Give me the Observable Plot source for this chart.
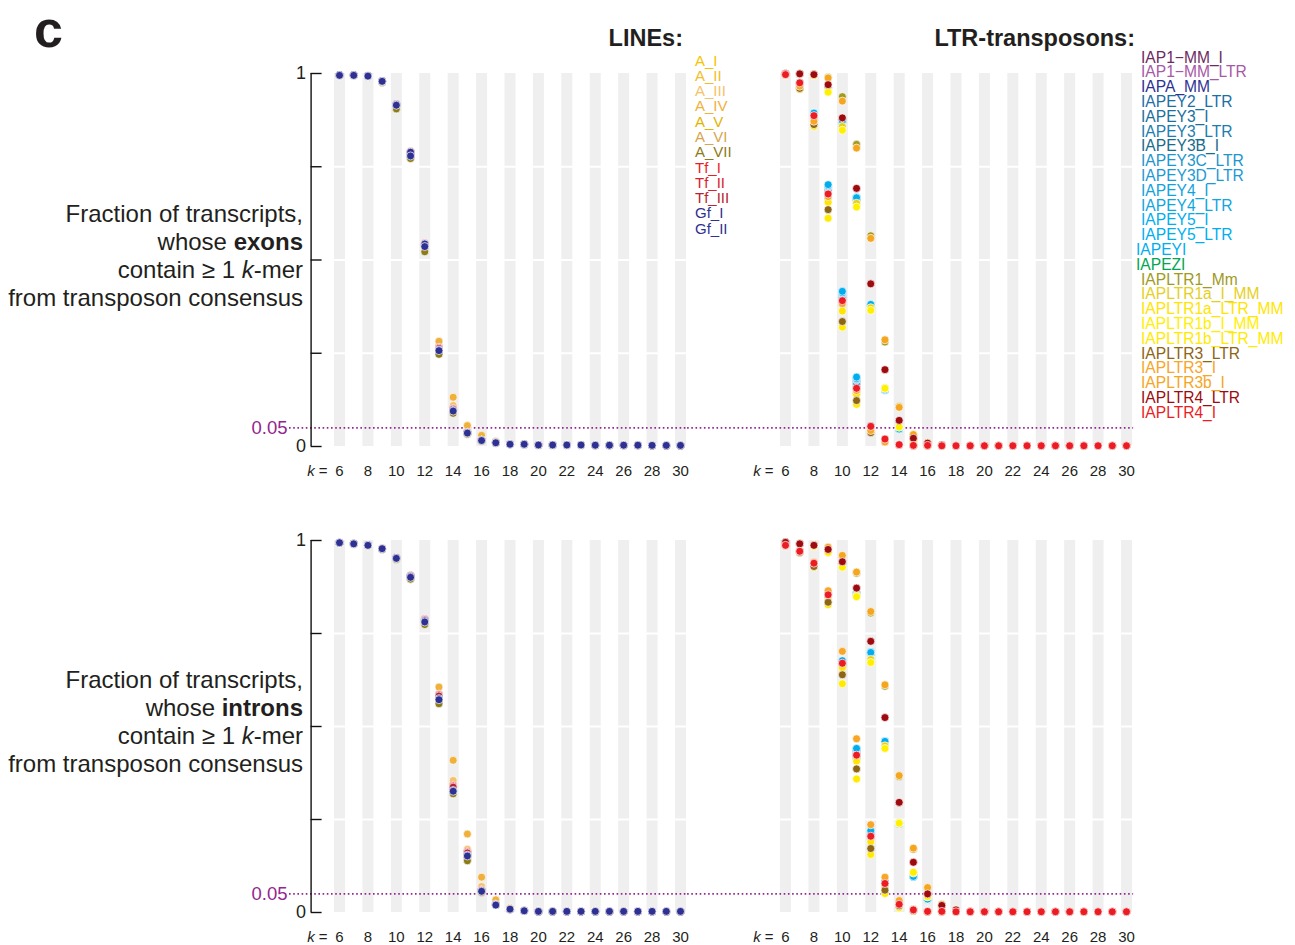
<!DOCTYPE html>
<html><head><meta charset="utf-8">
<script src="https://cdn.jsdelivr.net/npm/d3@7"></script>
<script src="https://cdn.jsdelivr.net/npm/@observablehq/plot@0.6"></script>
<style>
body{margin:0;background:#fff;}
#page{position:relative;width:1295px;height:945px;overflow:hidden;font-family:"Liberation Sans",Arial,Helvetica,sans-serif;color:#231f20;background:#fff;}
.panel{position:absolute;left:0;}
.ylab{position:absolute;right:992px;text-align:right;font-size:24px;line-height:28px;white-space:nowrap;}
.legend{position:absolute;white-space:nowrap;}
.title{position:absolute;font-weight:bold;font-size:23.5px;line-height:23.5px;white-space:nowrap;}
.letter{position:absolute;left:34px;top:3px;font-weight:bold;font-size:52px;line-height:52px;}
</style></head>
<body><div id="page"></div>
<script>
// ---------- data ----------
const kValues = [6,7,8,9,10,11,12,13,14,15,16,17,18,19,20,21,22,23,24,25,26,27,28,29,30];
const kTickLabels = [6,8,10,12,14,16,18,20,22,24,26,28,30];
const yTickMarks = [0,0.25,0.5,0.75,1];
const yTickLabels = [0,1];
const gridBreaks = [0.25,0.5,0.75];
const threshold = [0.05];

const lineNames = ["A_I","A_II","A_III","A_IV","A_V","A_VI","A_VII","Tf_I","Tf_II","Tf_III","Gf_I","Gf_II"];
const lineColors = ["#F5C400","#F0BE2A","#F5C26A","#F0B13A","#E3B300","#D6A64E","#8C7B16","#EC1C24","#DA2031","#B8232F","#2E3192","#2E3192"];

const lineExons = [
 [.994,.994,.992,.977,.910,.778,.532,.262,.100,.040,.018,.011,.007,.006,.004,.004,.004,.004,.0035,.0035,.0035,.0035,.003,.003,.003],
 [.994,.994,.992,.977,.911,.779,.534,.265,.103,.041,.019,.011,.007,.006,.004,.004,.004,.004,.0035,.0035,.0035,.0035,.003,.003,.003],
 [.995,.994,.993,.978,.912,.781,.536,.270,.110,.045,.021,.012,.007,.006,.004,.004,.004,.004,.0035,.0035,.0035,.0035,.003,.003,.003],
 [.995,.995,.993,.979,.913,.783,.538,.282,.132,.056,.030,.014,.008,.007,.005,.005,.0045,.0045,.004,.004,.004,.004,.0035,.0035,.0035],
 [.994,.994,.992,.976,.906,.775,.527,.252,.093,.035,.015,.010,.006,.005,.004,.004,.004,.004,.0035,.0035,.0035,.0035,.003,.003,.003],
 [.994,.994,.992,.977,.908,.777,.530,.258,.097,.037,.016,.010,.006,.005,.004,.004,.004,.004,.0035,.0035,.0035,.0035,.003,.003,.003],
 [.994,.994,.992,.976,.905,.772,.522,.247,.089,.033,.014,.009,.006,.005,.003,.003,.003,.003,.003,.003,.003,.003,.003,.003,.003],
 [.996,.995,.994,.980,.918,.791,.545,.266,.102,.038,.017,.011,.007,.006,.004,.004,.004,.004,.0035,.0035,.0035,.0035,.003,.003,.003],
 [.995,.995,.994,.980,.917,.788,.542,.265,.101,.038,.017,.011,.007,.006,.004,.004,.004,.004,.0035,.0035,.0035,.0035,.003,.003,.003],
 [.995,.995,.993,.979,.916,.786,.540,.263,.100,.037,.017,.010,.006,.006,.004,.004,.004,.004,.0035,.0035,.0035,.0035,.003,.003,.003],
 [.995,.995,.993,.979,.917,.789,.543,.259,.097,.037,.016,.010,.006,.006,.004,.004,.004,.004,.0035,.0035,.0035,.0035,.003,.003,.003],
 [.995,.995,.993,.979,.915,.779,.536,.257,.095,.036,.016,.010,.006,.006,.004,.004,.004,.004,.0035,.0035,.0035,.0035,.003,.003,.003]
];
const lineIntrons = [
 [.993,.990,.986,.977,.951,.899,.778,.575,.335,.155,.062,.023,.010,.005,.004,.003,.003,.003,.003,.003,.003,.003,.003,.003,.003],
 [.993,.990,.986,.977,.951,.900,.779,.578,.340,.160,.065,.024,.010,.005,.004,.003,.003,.003,.003,.003,.003,.003,.003,.003,.003],
 [.994,.991,.987,.978,.952,.902,.781,.585,.355,.170,.070,.026,.011,.005,.004,.003,.003,.003,.003,.003,.003,.003,.003,.003,.003],
 [.994,.991,.987,.978,.953,.904,.786,.606,.409,.211,.095,.034,.013,.006,.004,.004,.004,.003,.003,.003,.003,.003,.003,.003,.003],
 [.993,.990,.986,.977,.950,.897,.775,.563,.322,.142,.056,.021,.009,.005,.003,.003,.003,.003,.003,.003,.003,.003,.003,.003,.003],
 [.993,.990,.986,.977,.950,.898,.777,.568,.328,.148,.058,.022,.009,.005,.003,.003,.003,.003,.003,.003,.003,.003,.003,.003,.003],
 [.993,.990,.986,.976,.949,.896,.774,.561,.319,.139,.054,.020,.009,.004,.003,.003,.003,.003,.003,.003,.003,.003,.003,.003,.003],
 [.994,.991,.988,.979,.954,.906,.788,.587,.342,.164,.061,.022,.009,.005,.003,.003,.003,.003,.003,.003,.003,.003,.003,.003,.003],
 [.994,.991,.987,.978,.953,.905,.787,.585,.340,.162,.060,.022,.009,.005,.003,.003,.003,.003,.003,.003,.003,.003,.003,.003,.003],
 [.994,.991,.987,.978,.953,.904,.786,.582,.337,.160,.060,.021,.009,.005,.003,.003,.003,.003,.003,.003,.003,.003,.003,.003,.003],
 [.994,.991,.987,.978,.953,.903,.784,.575,.328,.154,.058,.021,.009,.0045,.003,.003,.003,.003,.003,.003,.003,.003,.003,.003,.003],
 [.994,.991,.987,.978,.952,.901,.781,.572,.326,.152,.057,.020,.009,.0045,.003,.003,.003,.003,.003,.003,.003,.003,.003,.003,.003]
];

const ltrNames = ["IAP1\u2212MM_I","IAP1\u2212MM_LTR","IAPA_MM","IAPEY2_LTR","IAPEY3_I","IAPEY3_LTR","IAPEY3B_I","IAPEY3C_LTR","IAPEY3D_LTR","IAPEY4_I","IAPEY4_LTR","IAPEY5_I","IAPEY5_LTR","IAPEYI","IAPEZI","IAPLTR1_Mm","IAPLTR1a_I_MM","IAPLTR1a_LTR_MM","IAPLTR1b_I_MM","IAPLTR1b_LTR_MM","IAPLTR3_LTR","IAPLTR3_I","IAPLTR3b_I","IAPLTR4_LTR","IAPLTR4_I"];
const ltrColors = ["#6D2A5F","#A659A6","#2E3192","#1C6EA4","#1B6F9E","#1B7DB0","#186C8C","#1D95CD","#1E99D3","#12A2DD","#10A6E0","#00AEEF","#00AEEF","#00AEEF","#00A651","#A19A1E","#E6CF1E","#FFE500","#FFF000","#FFEB00","#8E6415","#F7A626","#F5A61F","#9E0B0F","#EC1C24"];
const ltrLegendShift = [0,0,0,0,0,0,0,0,0,0,0,0,0,-5,-5,0,0,0,0,0,0,0,0,0,0];

const ltrExons = [
 [.999,.998,.995,.962,.872,.665,.380,.155,.048,.014,.005,.003,.002,.002,.002,.002,.002,.002,.002,.002,.002,.002,.002,.002,.002],
 [.996,.968,.880,.680,.395,.165,.050,.016,.005,.002,.002,.002,.002,.002,.002,.002,.002,.002,.002,.002,.002,.002,.002,.002,.002],
 [.999,.998,.995,.961,.870,.662,.378,.153,.047,.014,.005,.003,.002,.002,.002,.002,.002,.002,.002,.002,.002,.002,.002,.002,.002],
 [.996,.970,.885,.690,.405,.172,.052,.017,.005,.002,.002,.002,.002,.002,.002,.002,.002,.002,.002,.002,.002,.002,.002,.002,.002],
 [.999,.998,.995,.962,.872,.666,.380,.152,.046,.014,.005,.003,.002,.002,.002,.002,.002,.002,.002,.002,.002,.002,.002,.002,.002],
 [.996,.970,.884,.688,.400,.170,.050,.016,.005,.002,.002,.002,.002,.002,.002,.002,.002,.002,.002,.002,.002,.002,.002,.002,.002],
 [.999,.998,.995,.961,.871,.664,.378,.151,.046,.013,.005,.003,.002,.002,.002,.002,.002,.002,.002,.002,.002,.002,.002,.002,.002],
 [.997,.972,.888,.695,.408,.178,.053,.017,.005,.002,.002,.002,.002,.002,.002,.002,.002,.002,.002,.002,.002,.002,.002,.002,.002],
 [.997,.972,.890,.697,.410,.180,.054,.017,.005,.002,.002,.002,.002,.002,.002,.002,.002,.002,.002,.002,.002,.002,.002,.002,.002],
 [.999,.998,.995,.962,.873,.667,.380,.152,.046,.014,.005,.003,.002,.002,.002,.002,.002,.002,.002,.002,.002,.002,.002,.002,.002],
 [.997,.973,.891,.699,.412,.182,.054,.018,.005,.002,.002,.002,.002,.002,.002,.002,.002,.002,.002,.002,.002,.002,.002,.002,.002],
 [.999,.998,.995,.963,.874,.668,.381,.152,.046,.014,.005,.003,.002,.002,.002,.002,.002,.002,.002,.002,.002,.002,.002,.002,.002],
 [.998,.975,.894,.702,.416,.186,.055,.018,.005,.002,.002,.002,.002,.002,.002,.002,.002,.002,.002,.002,.002,.002,.002,.002,.002],
 [.999,.998,.995,.962,.873,.667,.381,.153,.047,.014,.005,.003,.002,.002,.002,.002,.002,.002,.002,.002,.002,.002,.002,.002,.002],
 [.996,.962,.870,.665,.383,.143,.045,.014,.004,.002,.002,.002,.002,.002,.002,.002,.002,.002,.002,.002,.002,.002,.002,.002,.002],
 [.999,.999,.998,.990,.938,.810,.565,.280,.107,.030,.010,.004,.002,.002,.002,.002,.002,.002,.002,.002,.002,.002,.002,.002,.002],
 [.999,.998,.995,.955,.858,.652,.372,.156,.052,.014,.005,.003,.002,.002,.002,.002,.002,.002,.002,.002,.002,.002,.002,.002,.002],
 [.996,.965,.866,.655,.363,.140,.046,.014,.004,.002,.002,.002,.002,.002,.002,.002,.002,.002,.002,.002,.002,.002,.002,.002,.002],
 [.999,.998,.994,.950,.848,.642,.365,.156,.052,.013,.005,.003,.002,.002,.002,.002,.002,.002,.002,.002,.002,.002,.002,.002,.002],
 [.995,.958,.858,.612,.320,.113,.040,.012,.004,.002,.002,.002,.002,.002,.002,.002,.002,.002,.002,.002,.002,.002,.002,.002,.002],
 [.995,.960,.863,.635,.335,.123,.037,.012,.004,.002,.002,.002,.002,.002,.002,.002,.002,.002,.002,.002,.002,.002,.002,.002,.002],
 [.996,.966,.872,.670,.383,.150,.043,.012,.004,.002,.002,.002,.002,.002,.002,.002,.002,.002,.002,.002,.002,.002,.002,.002,.002],
 [.999,.999,.998,.988,.926,.800,.558,.286,.105,.032,.011,.004,.002,.002,.002,.002,.002,.002,.002,.002,.002,.002,.002,.002,.002],
 [.999,.999,.997,.970,.881,.692,.436,.206,.070,.022,.009,.004,.002,.002,.002,.002,.002,.002,.002,.002,.002,.002,.002,.002,.002],
 [.997,.975,.887,.677,.391,.156,.054,.020,.005,.003,.003,.002,.002,.002,.002,.002,.002,.002,.002,.002,.002,.002,.002,.002,.002]
];
const ltrIntrons = [
 [.995,.990,.985,.970,.934,.856,.698,.458,.240,.098,.036,.012,.005,.002,.002,.002,.002,.002,.002,.002,.002,.002,.002,.002,.002],
 [.987,.970,.936,.848,.662,.425,.205,.078,.024,.007,.003,.002,.002,.002,.002,.002,.002,.002,.002,.002,.002,.002,.002,.002,.002],
 [.995,.990,.985,.969,.933,.855,.696,.456,.238,.097,.036,.012,.005,.002,.002,.002,.002,.002,.002,.002,.002,.002,.002,.002,.002],
 [.988,.971,.938,.855,.670,.432,.212,.082,.025,.007,.003,.002,.002,.002,.002,.002,.002,.002,.002,.002,.002,.002,.002,.002,.002],
 [.995,.990,.985,.970,.934,.857,.699,.459,.240,.097,.036,.012,.005,.002,.002,.002,.002,.002,.002,.002,.002,.002,.002,.002,.002],
 [.988,.971,.938,.853,.668,.430,.210,.080,.025,.007,.003,.002,.002,.002,.002,.002,.002,.002,.002,.002,.002,.002,.002,.002,.002],
 [.995,.990,.985,.969,.933,.855,.697,.457,.239,.096,.035,.012,.005,.002,.002,.002,.002,.002,.002,.002,.002,.002,.002,.002,.002],
 [.988,.972,.940,.857,.673,.436,.215,.083,.026,.008,.003,.002,.002,.002,.002,.002,.002,.002,.002,.002,.002,.002,.002,.002,.002],
 [.988,.972,.940,.858,.675,.438,.217,.084,.026,.008,.003,.002,.002,.002,.002,.002,.002,.002,.002,.002,.002,.002,.002,.002,.002],
 [.995,.990,.985,.970,.935,.858,.700,.461,.240,.097,.036,.012,.005,.002,.002,.002,.002,.002,.002,.002,.002,.002,.002,.002,.002],
 [.988,.972,.940,.859,.676,.440,.218,.085,.027,.008,.003,.002,.002,.002,.002,.002,.002,.002,.002,.002,.002,.002,.002,.002,.002],
 [.995,.990,.985,.970,.935,.858,.700,.461,.240,.097,.036,.012,.005,.002,.002,.002,.002,.002,.002,.002,.002,.002,.002,.002,.002],
 [.988,.972,.940,.860,.677,.441,.220,.085,.027,.008,.003,.002,.002,.002,.002,.002,.002,.002,.002,.002,.002,.002,.002,.002,.002],
 [.995,.990,.985,.970,.934,.857,.699,.460,.240,.097,.036,.012,.005,.002,.002,.002,.002,.002,.002,.002,.002,.002,.002,.002,.002],
 [.987,.970,.936,.841,.662,.415,.198,.070,.020,.006,.003,.002,.002,.002,.002,.002,.002,.002,.002,.002,.002,.002,.002,.002,.002],
 [.995,.992,.988,.982,.958,.912,.805,.608,.365,.170,.065,.020,.007,.003,.002,.002,.002,.002,.002,.002,.002,.002,.002,.002,.002],
 [.995,.990,.984,.968,.930,.852,.680,.448,.242,.106,.042,.014,.005,.002,.002,.002,.002,.002,.002,.002,.002,.002,.002,.002,.002],
 [.986,.969,.932,.838,.658,.407,.190,.065,.017,.005,.002,.002,.002,.002,.002,.002,.002,.002,.002,.002,.002,.002,.002,.002,.002],
 [.995,.990,.984,.968,.928,.849,.672,.441,.240,.108,.043,.014,.005,.002,.002,.002,.002,.002,.002,.002,.002,.002,.002,.002,.002],
 [.985,.967,.928,.827,.615,.359,.156,.051,.013,.004,.002,.002,.002,.002,.002,.002,.002,.002,.002,.002,.002,.002,.002,.002,.002],
 [.986,.968,.930,.834,.639,.386,.172,.060,.018,.005,.002,.002,.002,.002,.002,.002,.002,.002,.002,.002,.002,.002,.002,.002,.002],
 [.988,.972,.942,.865,.702,.467,.236,.095,.032,.009,.003,.002,.002,.002,.002,.002,.002,.002,.002,.002,.002,.002,.002,.002,.002],
 [.995,.992,.988,.982,.960,.915,.809,.612,.368,.173,.067,.022,.008,.003,.002,.002,.002,.002,.002,.002,.002,.002,.002,.002,.002],
 [.995,.991,.987,.976,.943,.872,.729,.524,.296,.135,.050,.019,.007,.003,.002,.002,.002,.002,.002,.002,.002,.002,.002,.002,.002],
 [.987,.971,.939,.854,.670,.423,.205,.078,.022,.007,.003,.003,.002,.002,.002,.002,.002,.002,.002,.002,.002,.002,.002,.002,.002]
];

// ---------- styling constants ----------
const FONT = '"Liberation Sans", Arial, Helvetica, sans-serif';
const INK = "#231f20";
const PURPLE = "#93278F";
const BAND = "#efefef";
const PAGE_W = 1295;
const xDomain = [4, 30.5];

function rowsFor(names, values) {
  const out = [];
  names.forEach((s, i) => {
    if (values[i].length !== kValues.length) console.warn("length mismatch", s, values[i].length);
    values[i].forEach((v, j) => out.push({series: s, k: kValues[j], v}));
  });
  return out;
}

function panel({names, colors, values, top, height, marginTop, marginBottom, marginLeft, marginRight, yAxis, ruleExtend}) {
  const frameW = PAGE_W - marginLeft - marginRight;
  const marks = [
    Plot.ruleX(kTickLabels, {x: d => d, y1: 0, y2: 1, stroke: BAND, strokeWidth: 11}),
    Plot.ruleY(gridBreaks, {y: d => d, stroke: "white", strokeWidth: 2}),
    Plot.ruleY(threshold, {y: d => d, stroke: PURPLE, strokeWidth: 1.6, strokeDasharray: "1.6 2.6", insetLeft: -ruleExtend}),
    Plot.dot(rowsFor(names, values), {x: "k", y: "v", fill: "series", r: 4, stroke: "white", strokeWidth: 0.7}),
    Plot.axisX({ticks: kTickLabels, tickSize: 0, tickPadding: 19, tickFormat: d => `${d}`, label: null, fontSize: 15, fill: INK}),
    Plot.text([kValues[0]], {x: d => d, text: () => "=", frameAnchor: "bottom", lineAnchor: "top", dy: 19, dx: -16.5, fontSize: 15, fill: INK}),
    Plot.text([kValues[0]], {x: d => d, text: () => "k", frameAnchor: "bottom", lineAnchor: "top", dy: 19, dx: -28.5, fontSize: 15, fontStyle: "italic", fill: INK})
  ];
  if (yAxis) {
    marks.push(
      Plot.ruleX([xDomain[0]], {x: d => d, y1: 0, y2: 1, stroke: "#111", strokeWidth: 1.4}),
      Plot.ruleY(yTickMarks, {y: d => d, stroke: "#111", strokeWidth: 1.4, insetRight: frameW - 11}),
      Plot.axisY({ticks: yTickLabels, tickSize: 0, tickPadding: 5, tickFormat: d => `${d}`, label: null, fontSize: 18, fill: INK}),
      Plot.text(threshold, {y: d => d, text: () => "0.05", frameAnchor: "left", textAnchor: "end", dx: -(ruleExtend + 2), fontSize: 18.5, fill: PURPLE})
    );
  }
  const svg = Plot.plot({
    width: PAGE_W, height, marginTop, marginBottom, marginLeft, marginRight,
    x: {domain: xDomain, axis: null},
    y: {domain: [0, 1], axis: null},
    color: {domain: names, range: colors},
    style: {fontFamily: FONT, fontSize: "15px", color: INK, background: "transparent", overflow: "visible"},
    marks
  });
  const wrap = document.createElement("div");
  wrap.className = "panel";
  wrap.style.top = top + "px";
  wrap.appendChild(svg);
  return wrap;
}

const page = document.getElementById("page");

const L = {marginLeft: 310.6, marginRight: PAGE_W - 687.1};
const R = {marginLeft: 756.6, marginRight: PAGE_W - 1133.1};
const TOP = {top: 0, height: 490, marginTop: 73, marginBottom: 44};
const BOT = {top: 490, height: 455, marginTop: 50, marginBottom: 33};
const gapExtend = R.marginLeft - (PAGE_W - L.marginRight);

page.appendChild(panel({names: lineNames, colors: lineColors, values: lineExons, ...TOP, ...L, yAxis: true, ruleExtend: 21.6}));
page.appendChild(panel({names: ltrNames, colors: ltrColors, values: ltrExons, ...TOP, ...R, yAxis: false, ruleExtend: gapExtend}));
page.appendChild(panel({names: lineNames, colors: lineColors, values: lineIntrons, ...BOT, ...L, yAxis: true, ruleExtend: 21.6}));
page.appendChild(panel({names: ltrNames, colors: ltrColors, values: ltrIntrons, ...BOT, ...R, yAxis: false, ruleExtend: gapExtend}));

// ---------- texts ----------
function addHTML(cls, html, style) {
  const d = document.createElement("div");
  d.className = cls;
  d.innerHTML = html;
  Object.assign(d.style, style);
  page.appendChild(d);
  return d;
}
addHTML("letter", "c", {});
addHTML("title", "LINEs:", {right: (PAGE_W - 683) + "px", top: "27px"});
addHTML("title", "LTR-transposons:", {right: (PAGE_W - 1135) + "px", top: "27px"});
addHTML("ylab", "Fraction of transcripts,<br>whose <b>exons</b><br>contain \u2265 1 <i>k</i>-mer<br>from transposon consensus", {top: "200px"});
addHTML("ylab", "Fraction of transcripts,<br>whose <b>introns</b><br>contain \u2265 1 <i>k</i>-mer<br>from transposon consensus", {top: "666px"});

function legend(names, colors, left, top, spacing, fontSize, shifts) {
  const box = document.createElement("div");
  box.className = "legend";
  box.style.left = left + "px";
  box.style.top = top + "px";
  box.style.fontSize = fontSize + "px";
  names.forEach((n, i) => {
    const row = document.createElement("div");
    row.textContent = n;
    row.style.color = colors[i];
    row.style.height = spacing + "px";
    row.style.lineHeight = spacing + "px";
    if (shifts && shifts[i]) row.style.marginLeft = shifts[i] + "px";
    box.appendChild(row);
  });
  page.appendChild(box);
}
legend(lineNames, lineColors, 695, 52.5, 15.3, 15, null);
legend(ltrNames, ltrColors, 1141, 50.6, 14.8, 15.6, ltrLegendShift);
</script>
</body></html>
